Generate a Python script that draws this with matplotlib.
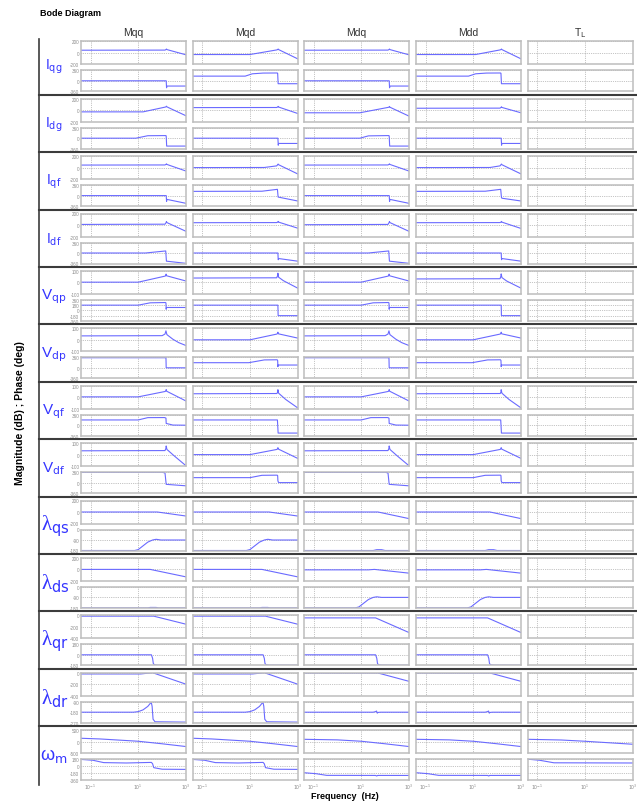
import matplotlib
matplotlib.use("Agg")
import matplotlib.pyplot as plt
import numpy as np
from matplotlib.lines import Line2D
from matplotlib.ticker import NullLocator

plt.rcParams['font.family'] = ['Liberation Sans', 'DejaVu Sans']

## Data : breakpoints (log10 frequency, value)
## order inside each list : Mqq, Mqd, Mdq, Mdd, TL  (None = nothing drawn)

col_titles = ['Mqq', 'Mqd', 'Mdq', 'Mdd', r'T$_{\mathrm{L}}$']
row_labels = [r'I$_{\mathrm{qg}}$', r'I$_{\mathrm{dg}}$',
              r'I$_{\mathrm{qf}}$', r'I$_{\mathrm{df}}$',
              r'V$_{\mathrm{qp}}$', r'V$_{\mathrm{dp}}$',
              r'V$_{\mathrm{qf}}$', r'V$_{\mathrm{df}}$',
              r'λ$_{\mathrm{qs}}$', r'λ$_{\mathrm{ds}}$',
              r'λ$_{\mathrm{qr}}$', r'λ$_{\mathrm{dr}}$',
              r'ω$_{\mathrm{m}}$']

iqg_mag = [[(-1.4, 45), (2.12, 47), (2.17, 58), (2.18, 66), (2.2, 56), (3, -35)],
           [(-1.4, -30), (1.0, -30), (2.12, 50), (2.17, 58), (2.18, 66), (2.2, 56), (3, -105)],
           [(-1.4, 45), (2.12, 47), (2.17, 58), (2.18, 66), (2.2, 56), (3, -35)],
           [(-1.4, -30), (1.1, -30), (2.12, 50), (2.17, 58), (2.18, 66), (2.2, 56), (3, -105)],
           None]
iqg_ph = [[(-1.4, 0), (2.17, 0), (2.18, -150), (2.185, -240), (2.2, -180), (3, -180)],
          [(-1.4, 160), (0.8, 160), (1.1, 240), (1.55, 265), (2.14, 268), (2.16, 260), (2.18, -100), (3, -100)],
          [(-1.4, 0), (2.17, 0), (2.18, -150), (2.185, -240), (2.2, -180), (3, -180)],
          [(-1.4, 160), (0.8, 160), (1.1, 240), (1.55, 265), (2.14, 268), (2.16, 260), (2.18, -100), (3, -100)],
          None]

idg_mag = [[(-1.4, -29), (1.2, -29), (2.14, 55), (2.17, 62), (2.18, 70), (2.2, 58), (3, -97)],
           [(-1.4, 45), (2.12, 47), (2.17, 58), (2.18, 66), (2.2, 55), (3, -57)],
           [(-1.4, -45), (0.94, -45), (2.14, 50), (2.17, 57), (2.18, 65), (2.2, 52), (3, -103)],
           [(-1.4, 34), (2.12, 36), (2.17, 50), (2.18, 60), (2.2, 48), (3, -45)],
           None]
idg_ph = [[(-1.4, 0), (0.9, 0), (1.4, 85), (2.15, 90), (2.17, 80), (2.19, -270), (3, -270)],
          [(-1.4, 0), (2.17, 0), (2.18, -150), (2.185, -240), (2.2, -180), (3, -180)],
          [(-1.4, 0), (0.94, 0), (1.3, 80), (2.15, 90), (2.17, 80), (2.19, -270), (3, -270)],
          [(-1.4, 0), (2.17, 0), (2.18, -150), (2.185, -240), (2.2, -180), (3, -180)],
          None]

iqf_mag = [[(-1.4, 44), (2.12, 46), (2.17, 58), (2.18, 66), (2.2, 55), (3, -60)],
           [(-1.4, 0), (1.6, 2), (2.12, 30), (2.17, 55), (2.18, 62), (2.2, 50), (3, -110)],
           [(-1.4, 44), (2.12, 46), (2.17, 58), (2.18, 66), (2.2, 55), (3, -60)],
           [(-1.4, 0), (1.7, 2), (2.12, 30), (2.17, 55), (2.18, 62), (2.2, 50), (3, -110)],
           None]
iqf_ph = [[(-1.4, 0), (2.17, 0), (2.18, -120), (2.185, -200), (2.2, -130), (3, -265)],
          [(-1.4, 145), (1.5, 150), (2.15, 215), (2.18, -50), (3, -185)],
          [(-1.4, 0), (2.17, 0), (2.18, -120), (2.185, -200), (2.2, -130), (3, -265)],
          [(-1.4, 145), (1.5, 150), (2.15, 215), (2.18, -60), (2.2, -90), (3, -185)],
          None]

idf_mag = [[(-1.4, 10), (2.12, 14), (2.17, 45), (2.18, 60), (2.2, 42), (3, -110)],
           [(-1.4, 40), (2.12, 42), (2.17, 52), (2.18, 62), (2.2, 50), (3, -55)],
           [(-1.4, 5), (2.12, 10), (2.17, 45), (2.18, 60), (2.2, 42), (3, -110)],
           [(-1.4, 40), (2.12, 42), (2.17, 52), (2.18, 62), (2.2, 50), (3, -60)],
           None]
idf_ph = [[(-1.4, 0), (1.3, 0), (2.15, 70), (2.18, -280), (3, -355)],
          [(-1.4, 0), (2.17, 0), (2.18, -170), (2.185, -230), (2.2, -190), (3, -280)],
          [(-1.4, 0), (1.3, 0), (2.15, 70), (2.18, -280), (3, -355)],
          [(-1.4, 0), (2.17, 0), (2.18, -170), (2.185, -230), (2.2, -190), (3, -280)],
          None]

vqp_mag = [[(-1.4, 2), (1.0, 2), (2.13, 55), (2.16, 62), (2.165, 72), (2.18, 58), (3, 12)],
           [(-1.4, 38), (2.12, 40), (2.16, 60), (2.17, 80), (2.2, 45), (2.4, 15), (3, -50)],
           [(-1.4, 2), (1.0, 2), (2.13, 55), (2.16, 62), (2.165, 72), (2.18, 58), (3, 12)],
           [(-1.4, 30), (2.12, 32), (2.16, 55), (2.17, 74), (2.2, 42), (2.4, 12), (3, -50)],
           None]
vqp_ph = [[(-1.4, 180), (1.0, 180), (1.5, 260), (2.14, 270), (2.16, 255), (2.17, 40), (2.18, 100), (3, 100)],
          [(-1.4, 180), (2.17, 180), (2.18, -180), (3, -180)],
          [(-1.4, 180), (1.0, 180), (1.5, 260), (2.14, 270), (2.16, 255), (2.17, 40), (2.18, 100), (3, 100)],
          [(-1.4, 180), (2.17, 180), (2.18, -180), (3, -180)],
          None]

vdp_mag = [[(-1.4, 34), (2.0, 36), (2.12, 50), (2.16, 78), (2.2, 45), (2.45, 5), (2.7, -25), (3, -50)],
           [(-1.4, 0), (1.0, 0), (2.13, 50), (2.16, 57), (2.17, 66), (2.19, 52), (3, 15)],
           [(-1.4, 34), (2.0, 36), (2.12, 50), (2.16, 78), (2.2, 45), (2.45, 5), (2.7, -25), (3, -50)],
           [(-1.4, 0), (1.0, 0), (2.13, 50), (2.16, 57), (2.17, 66), (2.19, 52), (3, 15)],
           None]
vdp_ph = [[(-1.4, 345), (2.16, 345), (2.17, 0), (3, 0)],
          [(-1.4, 175), (0.95, 175), (1.6, 270), (2.14, 275), (2.16, 250), (2.17, 40), (2.18, 95), (3, 95)],
          [(-1.4, 345), (2.16, 345), (2.17, 0), (3, 0)],
          [(-1.4, 175), (0.95, 175), (1.6, 270), (2.14, 275), (2.16, 250), (2.17, 40), (2.18, 95), (3, 95)],
          None]

vqf_mag = [[(-1.4, 3), (1.0, 3), (2.13, 50), (2.16, 57), (2.17, 66), (2.19, 52), (3, -33)],
           [(-1.4, 30), (2.13, 32), (2.16, 45), (2.17, 65), (2.2, 35), (2.5, -20), (3, -93)],
           [(-1.4, 3), (1.0, 3), (2.13, 50), (2.16, 57), (2.17, 66), (2.19, 52), (3, -33)],
           [(-1.4, 30), (2.13, 32), (2.16, 45), (2.17, 65), (2.2, 35), (2.5, -20), (3, -93)],
           None]
vqf_ph = [[(-1.4, 180), (1.0, 180), (1.4, 260), (2.1, 262), (2.16, 245), (2.17, 60), (2.3, 35), (2.45, 5), (3, 0)],
          [(-1.4, 180), (2.15, 180), (2.18, -270), (3, -270)],
          [(-1.4, 180), (1.0, 180), (1.4, 260), (2.1, 262), (2.16, 245), (2.17, 60), (2.3, 35), (2.45, 5), (3, 0)],
          [(-1.4, 180), (2.15, 180), (2.18, -270), (3, -270)],
          None]

vdf_mag = [[(-1.4, 33), (2.12, 35), (2.16, 55), (2.17, 75), (2.2, 45), (2.5, -10), (3, -97)],
           [(-1.4, 0), (1.0, 0), (2.13, 45), (2.16, 52), (2.17, 60), (2.19, 48), (3, -33)],
           [(-1.4, 33), (2.12, 35), (2.16, 55), (2.17, 75), (2.2, 45), (2.5, -10), (3, -97)],
           [(-1.4, 0), (1.0, 0), (2.13, 45), (2.16, 52), (2.17, 60), (2.19, 48), (3, -33)],
           None]
vdf_ph = [[(-1.4, 355), (2.0, 355), (2.12, 330), (2.17, -60), (3, -110)],
          [(-1.4, 170), (1.0, 170), (1.5, 250), (2.14, 255), (2.16, 240), (2.17, 60), (2.2, 0), (3, 0)],
          [(-1.4, 355), (2.0, 355), (2.12, 330), (2.17, -60), (3, -110)],
          [(-1.4, 170), (1.0, 170), (1.5, 250), (2.14, 255), (2.16, 240), (2.17, 60), (2.2, 0), (3, 0)],
          None]

lqs_mag = [[(-1.4, 0), (1.8, 0), (3, -70)],
           [(-1.4, 0), (1.8, 0), (3, -70)],
           [(-1.4, 0), (1.7, 0), (3, -115)],
           [(-1.4, 0), (1.7, 0), (3, -115)],
           None]
lqs_ph = [[(-1.4, -180), (0.85, -180), (1.0, -172), (1.2, -140), (1.4, -108), (1.6, -90), (1.75, -84), (1.95, -90), (3, -90)],
          [(-1.4, -180), (0.85, -180), (1.0, -172), (1.2, -140), (1.4, -108), (1.6, -90), (1.75, -84), (1.95, -90), (3, -90)],
          [(-1.4, -180), (1.5, -180), (1.65, -173), (1.85, -173), (2.0, -180), (3, -180)],
          [(-1.4, -180), (1.5, -180), (1.65, -173), (1.85, -173), (2.0, -180), (3, -180)],
          None]

lds_mag = [[(-1.4, 0), (1.5, 0), (3, -130)],
           [(-1.4, 0), (1.5, 0), (3, -130)],
           [(-1.4, -8), (1.3, -8), (1.55, 0), (3, -65)],
           [(-1.4, -8), (1.3, -8), (1.55, 0), (3, -65)],
           None]
lds_ph = [[(-1.4, -180), (1.4, -180), (1.5, -176), (1.75, -176), (1.85, -180), (3, -180)],
          [(-1.4, -180), (1.4, -180), (1.5, -176), (1.75, -176), (1.85, -180), (3, -180)],
          [(-1.4, -180), (0.75, -180), (0.9, -172), (1.1, -140), (1.3, -108), (1.5, -90), (1.65, -85), (1.85, -90), (3, -90)],
          [(-1.4, -180), (0.75, -180), (0.9, -172), (1.1, -140), (1.3, -108), (1.5, -90), (1.65, -85), (1.85, -90), (3, -90)],
          None]

lqr_mag = [[(-1.4, -15), (1.65, -15), (3, -155)],
           [(-1.4, -15), (1.65, -15), (3, -155)],
           [(-1.4, -45), (1.6, -45), (3, -300)],
           [(-1.4, -45), (1.6, -45), (3, -300)],
           None]
lqr_ph = [[(-1.4, 0), (1.55, 0), (1.6, -60), (1.63, -150), (1.68, -172), (1.8, -178), (3, -180)],
          [(-1.4, 0), (1.55, 0), (1.6, -60), (1.63, -150), (1.68, -172), (1.8, -178), (3, -180)],
          [(-1.4, 0), (1.6, 0), (1.65, -60), (1.68, -150), (1.73, -172), (1.85, -178), (3, -180)],
          [(-1.4, 0), (1.6, 0), (1.65, -60), (1.68, -150), (1.73, -172), (1.85, -178), (3, -180)],
          None]

ldr_mag = [[(-1.4, -22), (1.1, -22), (1.6, 0), (3, -200)],
           [(-1.4, -22), (1.1, -22), (1.6, 0), (3, -200)],
           [(-1.4, -5), (1.7, -5), (3, -150)],
           [(-1.4, -5), (1.7, -5), (3, -150)],
           None]
ldr_ph = [[(-1.4, -180), (0.8, -180), (1.0, -175), (1.2, -160), (1.4, -130), (1.5, -105), (1.55, -100), (1.58, -130), (1.62, -240), (1.7, -262), (3, -265)],
          [(-1.4, -180), (0.8, -180), (1.0, -175), (1.2, -160), (1.4, -130), (1.5, -105), (1.55, -100), (1.58, -130), (1.62, -240), (1.7, -262), (3, -265)],
          [(-1.4, -180), (1.5, -180), (1.6, -175), (1.64, -170), (1.67, -188), (1.7, -182), (1.8, -180), (3, -180)],
          [(-1.4, -180), (1.5, -180), (1.6, -175), (1.64, -170), (1.67, -188), (1.7, -182), (1.8, -180), (3, -180)],
          None]

wm_mag = [[(-1.4, 145), (-0.6, 115), (1.0, 15), (2.0, -95), (3, -215)],
          [(-1.4, 145), (-0.6, 115), (1.0, 15), (2.0, -95), (3, -215)],
          [(-1.4, 100), (0.0, 75), (1.0, 15), (2.0, -95), (3, -215)],
          [(-1.4, 100), (0.0, 75), (1.0, 15), (2.0, -95), (3, -215)],
          [(-1.4, 100), (0.0, 70), (1.0, 15), (2.0, -50), (3, -115)]]
wm_ph = [[(-1.4, 172), (-0.9, 150), (-0.45, 90), (0.5, 80), (1.55, 95), (1.6, 60), (1.65, -40), (2.0, -80), (3, -85)],
         [(-1.4, 172), (-0.9, 150), (-0.45, 90), (0.5, 80), (1.55, 95), (1.6, 60), (1.65, -40), (2.0, -80), (3, -85)],
         [(-1.4, -170), (-0.9, -195), (-0.45, -238), (1.6, -240), (1.65, -255), (1.68, -240), (3, -240)],
         [(-1.4, -170), (-0.9, -195), (-0.45, -238), (1.6, -240), (1.65, -255), (1.68, -240), (3, -240)],
         [(-1.4, 178), (-0.9, 150), (-0.3, 85), (3, 80)]]

mag_ticks = [[200, 0, -200]] * 4 + [[100, 0, -100]] * 4 + [[200, 0, -200]] * 2 + [[0, -200, -400]] * 2 + [[500, 0, -500]]
ph_ticks = [[360, 0, -360]] * 4 + [[360, 180, 0, -180, -360]] + [[360, 0, -360]] * 3 + \
           [[0, -90, -180]] * 2 + [[180, 0, -180], [-90, -180, -270], [180, 0, -180, -360]]

mags = [iqg_mag, idg_mag, iqf_mag, idf_mag, vqp_mag, vdp_mag, vqf_mag, vdf_mag,
        lqs_mag, lds_mag, lqr_mag, ldr_mag, wm_mag]
phases = [iqg_ph, idg_ph, iqf_ph, idf_ph, vqp_ph, vdp_ph, vqf_ph, vdf_ph,
          lqs_ph, lds_ph, lqr_ph, ldr_ph, wm_ph]

##Layout (pixels)
W, H = 637, 803
colLeft = [81, 192.7, 304, 416, 527.7]
colW = 105
rowTop0 = 38.3
rowH = 57.4
lineCol = '#6a6aff'
labCol = '#3535ff'

fig = plt.figure(figsize=(W / 100, H / 100), dpi=100)


def box(x, y, w, h):
    return [x / W, 1 - (y + h) / H, w / W, h / H]


def style(ax, yt, first, bottom):
    ax.set_xscale('log')
    ax.set_xlim(10 ** -1.4, 10 ** 3)
    ax.set_ylim(min(yt), max(yt))
    ax.set_yticks(yt)
    ax.set_yticklabels([str(v) for v in yt])
    ax.set_xticks([0.1, 10, 1000])
    ax.set_xticklabels([r'$10^{-1}$', r'$10^{1}$', r'$10^{3}$'])
    ax.xaxis.set_minor_locator(NullLocator())
    ax.grid(True, linestyle=':', color='#8c8c8c', linewidth=0.5)
    ax.tick_params(length=0, labelsize=3.3, colors='#8a8a8a', pad=1.2,
                   labelleft=first, labelbottom=bottom)
    for s in ax.spines.values():
        s.set_color('#bdbdbd')
        s.set_linewidth(1.1)


def draw(ax, pts):
    if pts is None:
        return
    lf = np.array([p[0] for p in pts])
    val = np.array([p[1] for p in pts])
    ax.plot(10 ** lf, val, color=lineCol, linewidth=0.8)


for r in range(13):
    top = rowTop0 + rowH * r
    for c in range(5):
        axm = fig.add_axes(box(colLeft[c], top + 4, colW, 23))
        axp = fig.add_axes(box(colLeft[c], top + 33, colW, 21))
        style(axm, mag_ticks[r], c == 0, False)
        style(axp, ph_ticks[r], c == 0, r == 12)
        draw(axm, mags[r][c])
        draw(axp, phases[r][c])
    if r >= 8 and r < 12:
        fig.text(55 / W, 1 - (top + 29) / H, row_labels[r], color=labCol, fontsize=15,
                 family=['Liberation Serif', 'DejaVu Sans'], ha='center', va='center')
    else:
        fs = 13 if r == 12 else (11 if r >= 4 else 10)
        fig.text(54 / W, 1 - (top + 29) / H, row_labels[r], color=labCol,
                 fontsize=fs, ha='center', va='center')
    if r > 0:
        fig.add_artist(Line2D([39 / W, 636 / W], [1 - top / H, 1 - top / H],
                              color='#3c3c3c', linewidth=1.5))

fig.add_artist(Line2D([39 / W, 39 / W], [1 - 40 / H, 1 - 786 / H], color='#3c3c3c', linewidth=1.2))

for c in range(5):
    fig.text((colLeft[c] + colW / 2) / W, 1 - 33 / H, col_titles[c], fontsize=7.5,
             color='#333333', ha='center', va='center')

fig.text(40 / W, 1 - 14 / H, 'Bode Diagram', fontsize=6.5, fontweight='bold', ha='left', va='center')
fig.text(20 / W, 1 - 413 / H, 'Magnitude (dB) ; Phase (deg)', fontsize=7.5, fontweight='bold',
         rotation=90, ha='center', va='center')
fig.text(345 / W, 1 - 797 / H, 'Frequency  (Hz)', fontsize=6.5, fontweight='bold', ha='center', va='center')

fig.savefig('out.png', dpi=100)
